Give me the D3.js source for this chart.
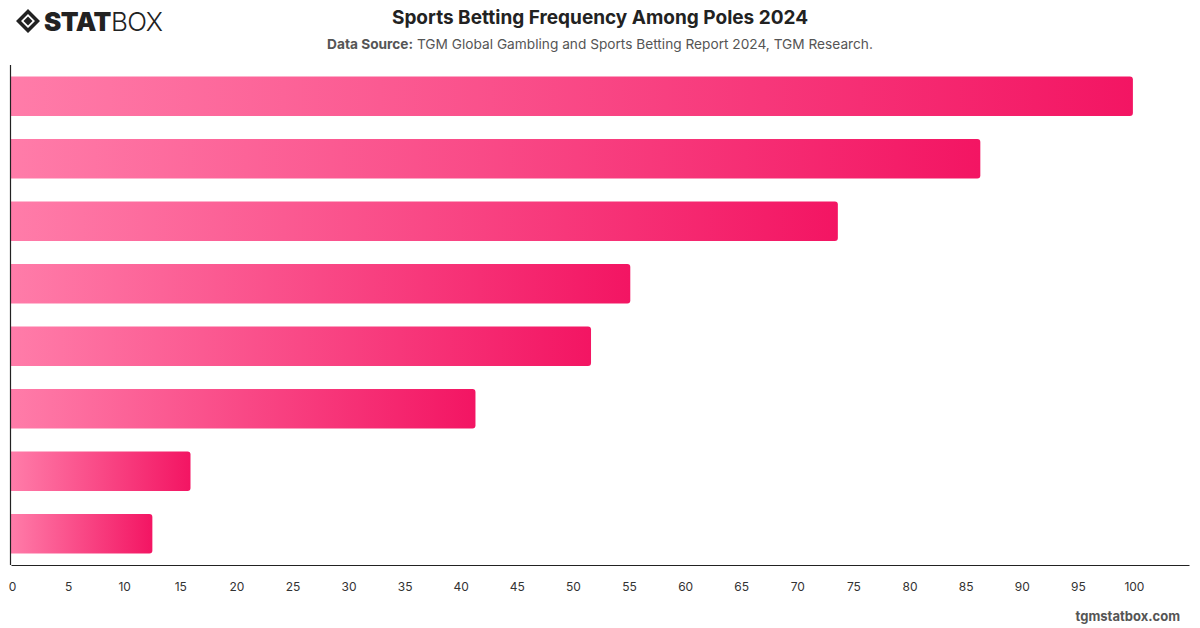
<!DOCTYPE html>
<html>
<head>
<meta charset="utf-8">
<script src="https://cdn.jsdelivr.net/npm/d3@7"></script>
<style>
  html, body { margin: 0; padding: 0; background: #fff; }
  svg { display: block; font-family: Inter, "Noto Sans", sans-serif; }
</style>
</head>
<body>
<svg id="chart" width="1200" height="628"></svg>
<script>
const categories = ["A", "B", "C", "D", "E", "F", "G", "H"];
const values = [100, 86.4, 73.7, 55.2, 51.7, 41.4, 16.0, 12.6];
const tickValues = [0, 5, 10, 15, 20, 25, 30, 35, 40, 45, 50, 55, 60, 65, 70, 75, 80, 85, 90, 95, 100];
const xDomainMax = 105;

const svg = d3.select("#chart");
const W = 1200, H = 628;
const m = { left: 11, right: 11, top: 65, bottom: 63 };

const x = d3.scaleLinear().domain([0, xDomainMax]).range([m.left, W - m.right]);
const y = d3.scaleBand().domain(categories).range([m.top, H - m.bottom])
  .paddingInner(0.37).paddingOuter(0.185);

// gradient
const defs = svg.append("defs");
const grad = defs.append("linearGradient").attr("id", "barGrad")
  .attr("x1", "0%").attr("x2", "100%").attr("y1", "0%").attr("y2", "0%");
grad.append("stop").attr("offset", "0%").attr("stop-color", "#ff7ca9");
grad.append("stop").attr("offset", "100%").attr("stop-color", "#f31563");

// logo
const logo = svg.append("g").attr("transform", "translate(16,9)");
logo.append("path")
  .attr("d", "M12,0 L24,12 L12,24 L0,12 Z M12,5 L19,12 L12,19 L5,12 Z")
  .attr("fill", "#222").attr("fill-rule", "evenodd");
logo.append("path").attr("d", "M12,7.5 L16.5,12 L12,16.5 L7.5,12 Z").attr("fill", "#222");
logo.append("text").attr("x", 28).attr("y", 22)
  .style("font-family", "Inter, sans-serif").style("font-size", "26px")
  .style("letter-spacing", "-0.5px")
  .html('<tspan font-weight="900" fill="#222">STAT</tspan><tspan font-weight="300" fill="#222">BOX</tspan>');

// title
svg.append("text").attr("x", 600).attr("y", 24).attr("text-anchor", "middle")
  .style("font-size", "19px").style("font-weight", "700").style("fill", "#222")
  .text("Sports Betting Frequency Among Poles 2024");
svg.append("text").attr("x", 600).attr("y", 49).attr("text-anchor", "middle")
  .style("font-size", "13.7px").style("fill", "#555")
  .html('<tspan font-weight="700">Data Source:</tspan> TGM Global Gambling and Sports Betting Report 2024, TGM Research.');

// bars with right rounded corners
const r = 3;
svg.append("g").selectAll("path").data(values).join("path")
  .attr("fill", "url(#barGrad)")
  .attr("d", (d, i) => {
    const x0 = x(0), x1 = x(d), y0 = y(categories[i]), h = y.bandwidth();
    return `M${x0},${y0} H${x1 - r} Q${x1},${y0} ${x1},${y0 + r} V${y0 + h - r} Q${x1},${y0 + h} ${x1 - r},${y0 + h} H${x0} Z`;
  });

// axes
const xAxis = d3.axisBottom(x).tickValues(tickValues).tickSize(0).tickPadding(17);
const gx = svg.append("g").attr("transform", `translate(0,${H - m.bottom})`).call(xAxis);
gx.select(".domain").attr("stroke", "#222").attr("stroke-width", 1.2);
gx.selectAll("text").style("font-size", "12px").style("fill", "#333")
  .style("font-family", "Inter, sans-serif").attr("dx", 1);

svg.append("line").attr("x1", m.left - 0.5).attr("x2", m.left - 0.5)
  .attr("y1", m.top).attr("y2", H - m.bottom).attr("stroke", "#222").attr("stroke-width", 1.2);

// footer
svg.append("text").attr("x", 1180).attr("y", 621).attr("text-anchor", "end")
  .style("font-size", "13px").style("font-weight", "700").style("fill", "#555")
  .text("tgmstatbox.com");
</script>
</body>
</html>
